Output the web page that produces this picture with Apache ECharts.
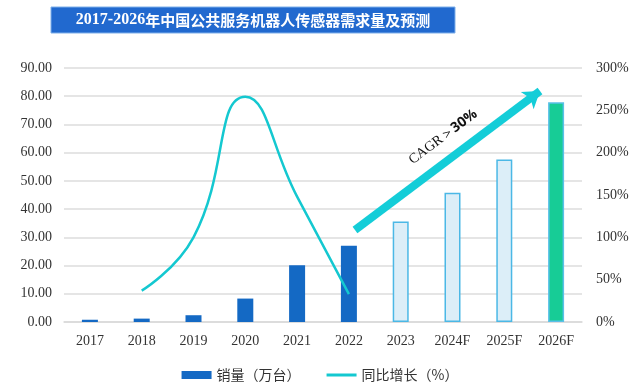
<!DOCTYPE html>
<html>
<head>
<meta charset="utf-8">
<script src="https://cdn.jsdelivr.net/npm/echarts@6/dist/echarts.min.js"></script>
<style>html,body{margin:0;padding:0;background:#fff}#c{width:640px;height:389px}</style>
</head>
<body>
<div id="c"></div>
<script>
const categories = ['2017','2018','2019','2020','2021','2022','2023','2024F','2025F','2026F'];
const sales = [0.8, 1.2, 2.4, 8.3, 20.1, 27.0, 35.6, 45.8, 57.6, 77.9];
const growth = [null, 37, 100, 266, 148, 33, null, null, null, null];
const leftTicks = [0, 10, 20, 30, 40, 50, 60, 70, 80, 90];
const rightTicks = [0, 50, 100, 150, 200, 250, 300];
const titleParts = ['2017-2026', '年中国公共服务机器人传感器需求量及预测'];
const cagrText = ['CAGR＞', '30%'];

const darkBlue = '#1469C4';
const cyan = '#14C8D0';
function barStyle(i) {
  if (i <= 5) return { color: darkBlue };
  if (i <= 8) return { color: '#DCEEF8', borderColor: '#4BB8E6', borderWidth: 1.5 };
  return { color: '#17CC96', borderColor: '#5BC0E8', borderWidth: 1.5 };
}

const chart = echarts.init(document.getElementById('c'), null, { renderer: 'canvas' });
chart.setOption({
  animation: false,
  backgroundColor: '#fff',
  title: {
    text: '{a|' + titleParts[0] + '}{b|' + titleParts[1] + '}',
    left: 253, top: 12, textAlign: 'center',
    padding: 0,
    textStyle: {
      rich: {
        a: { color: '#fff', fontSize: 16, fontWeight: 'bold', fontFamily: '"Liberation Serif"' },
        b: { color: '#fff', fontSize: 15, fontWeight: 'bold', fontFamily: '"Noto Sans CJK SC"' }
      }
    }
  },
  graphic: [
    { type: 'rect', z: -1, shape: { x: 51, y: 7, width: 404, height: 26 }, style: { fill: '#2169CF', stroke: '#7FB0EA', lineWidth: 1 } },
    {
      type: 'text', x: 443, y: 137, rotation: 37 * Math.PI / 180, z: 10,
      style: {
        text: '{a|' + cagrText[0] + '}{b|' + cagrText[1] + '}',
        align: 'center', verticalAlign: 'middle',
        rich: {
          a: { fontFamily: '"Liberation Serif"', fontSize: 14, fill: '#111' },
          b: { fontFamily: '"Open Sans", "Liberation Sans"', fontSize: 14, fontWeight: 'bold', fill: '#111' }
        }
      }
    }
  ],
  grid: { left: 64, right: 58, top: 68, bottom: 67 },
  legend: {
    bottom: 2, left: 'center',
    itemGap: 26,
    textStyle: { fontFamily: '"Noto Sans CJK SC"', fontSize: 14, color: '#333' },
    itemWidth: 30, itemHeight: 8,
    data: [
      { name: '销量（万台）', icon: 'rect', itemStyle: { color: darkBlue } },
      { name: '同比增长（%）', icon: 'path://M0,0 L30,0 L30,3 L0,3 Z', itemStyle: { color: cyan } }
    ]
  },
  xAxis: {
    type: 'category', data: categories,
    axisLine: { lineStyle: { color: '#D9D9D9', width: 1.5 } },
    axisTick: { show: false },
    axisLabel: { color: '#333', fontFamily: '"Liberation Serif"', fontSize: 14, margin: 12 }
  },
  yAxis: [
    {
      type: 'value', min: leftTicks[0], max: leftTicks[leftTicks.length - 1], interval: 10,
      axisLine: { show: false }, axisTick: { show: false },
      splitLine: { lineStyle: { color: '#DCDCDC', width: 1.5 } },
      axisLabel: { color: '#333', fontFamily: '"Liberation Serif"', fontSize: 14, margin: 12, formatter: v => v.toFixed(2) }
    },
    {
      type: 'value', min: rightTicks[0], max: rightTicks[rightTicks.length - 1], interval: 50,
      axisLine: { show: false }, axisTick: { show: false }, splitLine: { show: false },
      axisLabel: { color: '#333', fontFamily: '"Liberation Serif"', fontSize: 14, margin: 14, formatter: v => v + '%' }
    }
  ],
  series: [
    {
      name: '销量（万台）', type: 'bar', barWidth: 16,
      data: sales.map((v, i) => ({ value: v, itemStyle: barStyle(i) })),
      itemStyle: { color: darkBlue },
      markLine: {
        silent: true, symbol: ['none', 'arrow'], symbolSize: [16, 16],
        label: { show: false },
        lineStyle: { color: '#14CDD8', width: 8, type: 'solid' },
        data: [[{ x: 355, y: 230 }, { x: 540, y: 91 }]]
      }
    },
    {
      name: '同比增长（%）', type: 'line', yAxisIndex: 1, smooth: 0.5,
      data: growth, connectNulls: false,
      showSymbol: false, symbol: 'none',
      lineStyle: { color: cyan, width: 2.5 },
      itemStyle: { color: cyan }
    }
  ]
});
</script>
</body>
</html>
